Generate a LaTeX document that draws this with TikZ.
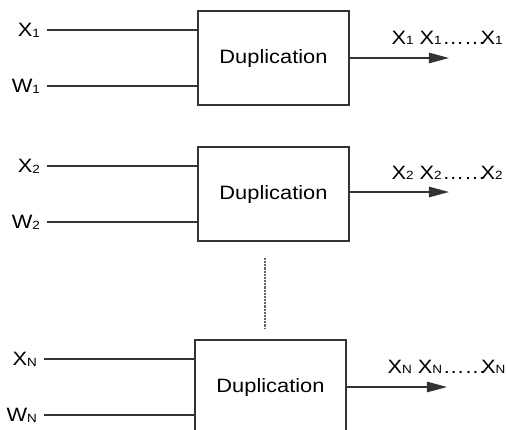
\documentclass[tikz,border=0pt]{standalone}
\usepackage{fontspec}
\setmainfont{Liberation Sans}[FakeStretch=1.13]
\usetikzlibrary{arrows.meta}
\newcommand\idx[1]{\raisebox{-0.5pt}{\fontsize{6.8}{7}\selectfont #1}}
\newcommand\gapdots{\kern0.3pt……\kern-3pt}
\begin{document}
\begin{tikzpicture}[x=0.02cm,y=-0.02cm,line width=0.6pt,
    txt/.style={font=\fontsize{11}{13}\selectfont, inner sep=0pt},
    dupbox/.style={draw=black!80, txt, minimum width=3.02cm, minimum height=1.88cm},
    inlbl/.style={txt, anchor=east, inner xsep=0.13cm, text height=7.8pt, text depth=0pt},
    outlbl/.style={txt, anchor=base west},
    wire/.style={draw=black!80},
    dupout/.style={wire, -{Triangle[length=11.5pt,width=6pt]}}]
  \useasboundingbox (0,0) rectangle (508,430);

  % unit 1
  \node[dupbox] (dup1) at (273.5,58) {Duplication};
  \node[inlbl] (x1) at (47,30) {X\idx{1}};
  \node[inlbl] (w1) at (47,86) {W\idx{1}};
  \coordinate (out1) at (449,58);
  \node[outlbl] (res1) at (391,44) {X\idx{1} X\idx{1}\gapdots X\idx{1}};
  \draw[wire] (x1.east) -- (x1.east -| dup1.west);
  \draw[wire] (w1.east) -- (w1.east -| dup1.west);
  \draw[dupout] (dup1.east) -- (out1);

  % unit 2
  \node[dupbox] (dup2) at (273.5,194) {Duplication};
  \node[inlbl] (x2) at (47,166) {X\idx{2}};
  \node[inlbl] (w2) at (47,222) {W\idx{2}};
  \coordinate (out2) at (449,192);
  \node[outlbl] (res2) at (391,179) {X\idx{2} X\idx{2}\gapdots X\idx{2}};
  \draw[wire] (x2.east) -- (x2.east -| dup2.west);
  \draw[wire] (w2.east) -- (w2.east -| dup2.west);
  \draw[dupout] (dup2.east |- out2) -- (out2);

  % gap
  \coordinate (gapA) at (265,258);
  \coordinate (gapB) at (265,328);
  \draw[wire, draw=black!60, dash pattern=on 1.2pt off 0.6pt] (gapA) -- (gapB);

  % unit N
  \node[dupbox] (dupN) at (270.5,387) {Duplication};
  \node[inlbl] (xN) at (44,359) {X\idx{N}};
  \node[inlbl] (wN) at (44,415) {W\idx{N}};
  \coordinate (outN) at (447,387);
  \node[outlbl] (resN) at (387,373) {X\idx{N} X\idx{N}\gapdots X\idx{N}};
  \draw[wire] (xN.east) -- (xN.east -| dupN.west);
  \draw[wire] (wN.east) -- (wN.east -| dupN.west);
  \draw[dupout] (dupN.east) -- (outN);
\end{tikzpicture}
\end{document}
